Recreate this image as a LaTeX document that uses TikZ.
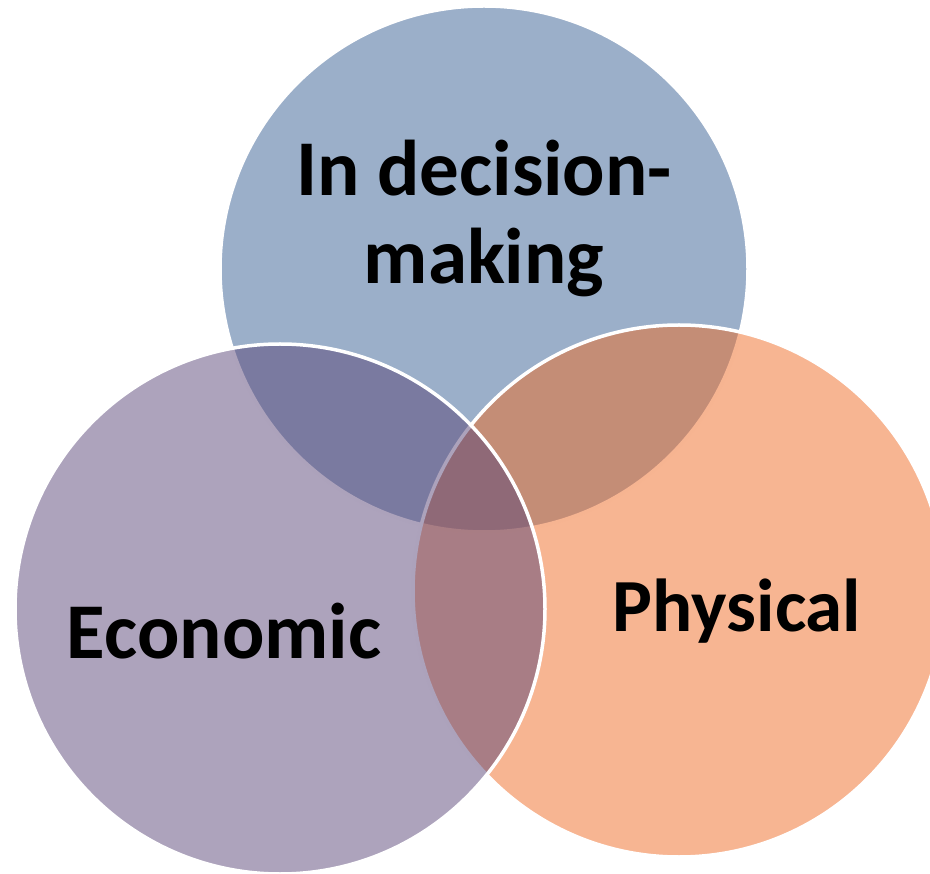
\documentclass[tikz,border=0pt]{standalone}
\usepackage{fontspec}
\setmainfont{Carlito}
\definecolor{cblue}{RGB}{55,95,147}
\definecolor{corange}{RGB}{239,107,37}
\definecolor{cpurple}{RGB}{91,71,121}
\begin{document}
\begin{tikzpicture}[x=1pt,y=-1pt,
  venn/.style={draw=white, line width=3.5pt, fill opacity=0.5},
  lbl/.style={inner sep=0pt, font=\fontsize{79}{88}\selectfont\bfseries, text=black, align=center}]
\useasboundingbox (0,0) rectangle (930,874);
\clip (0,0) rectangle (930,874);
\path[venn, fill=cblue] (484,269) ellipse [x radius=264, y radius=263];
\path[venn, fill=corange] (679,591) circle [radius=266];
\path[venn, fill=cpurple] (280,609) circle [radius=265];
\node[lbl, anchor=base] (top) at (484,284) {In decision-\\making};
\node[lbl, anchor=base] (eco) at (224,658) {Economic};
\node[lbl, anchor=base, font=\fontsize{75}{88}\selectfont\bfseries] (phy) at (737,631) {Physical};
\end{tikzpicture}
\end{document}
